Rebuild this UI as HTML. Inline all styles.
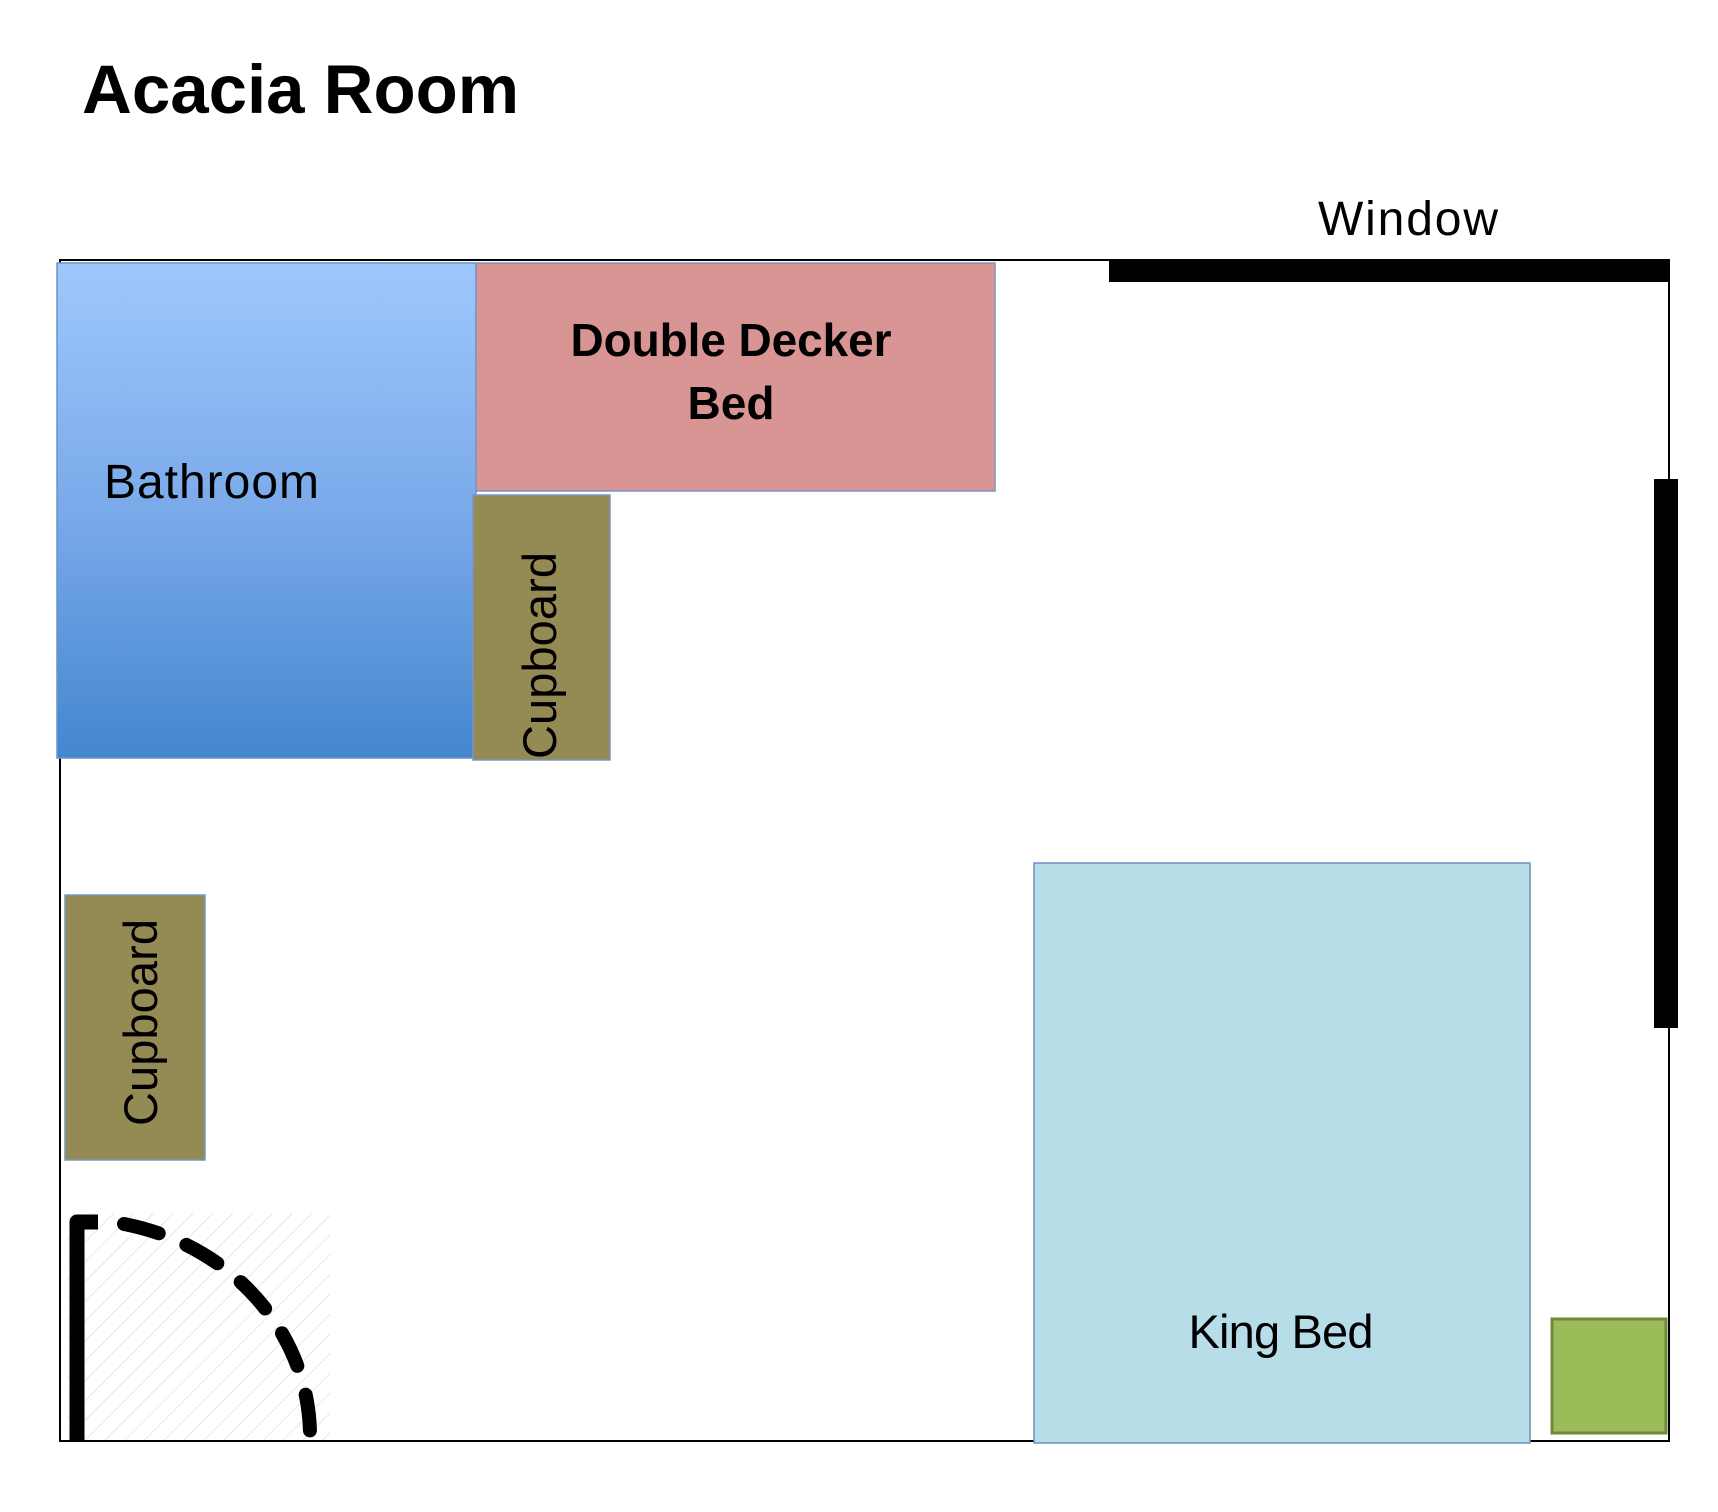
<!DOCTYPE html>
<html><head><meta charset="utf-8"><style>
body{margin:0;background:#fff;}
svg{display:block}
</style></head><body>
<svg width="1718" height="1512" viewBox="0 0 1718 1512" xmlns="http://www.w3.org/2000/svg" font-family="Liberation Sans, sans-serif">
<defs>
<linearGradient id="bg" x1="0" y1="0" x2="0" y2="1">
<stop offset="0" stop-color="#9fc7fc"/><stop offset="0.5" stop-color="#7aaaea"/><stop offset="1" stop-color="#4486cf"/>
</linearGradient>
<pattern id="hatch" width="14" height="14" patternUnits="userSpaceOnUse" patternTransform="rotate(45)">
<line x1="0" y1="0" x2="0" y2="14" stroke="#e6e6e6" stroke-width="2"/>
</pattern>
</defs>
<text x="82" y="113" font-size="69" font-weight="bold">Acacia Room</text>
<text x="1318" y="235" font-size="48" textLength="180">Window</text>
<rect x="60" y="260" width="1609" height="1181" fill="none" stroke="#000" stroke-width="2"/>
<rect x="1109" y="259" width="560" height="23" fill="#000"/>
<rect x="1654" y="479" width="24" height="549" fill="#000"/>
<rect x="57" y="263" width="419" height="495" fill="url(#bg)" stroke="#6a93c8" stroke-width="1.5"/>
<text x="104" y="498" font-size="48" textLength="215">Bathroom</text>
<rect x="476" y="263" width="519" height="228" fill="#d99594" stroke="#7a96c0" stroke-width="1.5"/>
<text x="731" y="356" font-size="46" font-weight="bold" text-anchor="middle" textLength="321">Double Decker</text>
<text x="731" y="419" font-size="46" font-weight="bold" text-anchor="middle">Bed</text>
<rect x="473" y="495" width="137" height="265" fill="#948a54" stroke="#7a96c0" stroke-width="1.5"/>
<text transform="translate(556,759) rotate(-90)" font-size="47" textLength="207">Cupboard</text>
<rect x="65" y="895" width="140" height="265" fill="#948a54" stroke="#7a96c0" stroke-width="1.5"/>
<text transform="translate(157,1126) rotate(-90)" font-size="47" textLength="207">Cupboard</text>
<rect x="1034" y="863" width="496" height="580" fill="#b7dde8" stroke="#6f8fbf" stroke-width="1.5"/>
<text x="1281" y="1348" font-size="47" text-anchor="middle" textLength="185">King Bed</text>
<rect x="1552" y="1319" width="114" height="114" fill="#9bbb59" stroke="#6e8a3a" stroke-width="3"/>
<rect x="68" y="1213" width="262" height="227" fill="url(#hatch)"/>
<path d="M77 1441 V1222 H98" fill="none" stroke="#000" stroke-width="15" stroke-linecap="butt" stroke-linejoin="round"/>
<path d="M124 1224 A233 217 0 0 1 310 1441" fill="none" stroke="#000" stroke-width="14" stroke-dasharray="36 30" stroke-linecap="round"/>
</svg>
</body></html>
